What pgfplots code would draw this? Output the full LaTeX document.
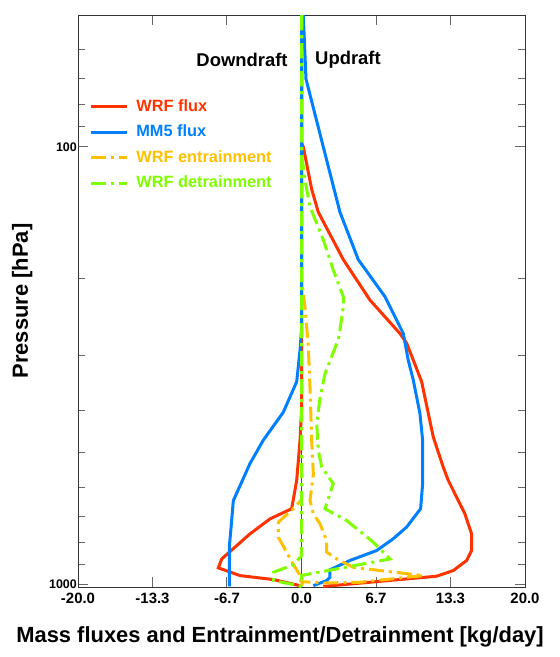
\documentclass[border=0pt]{standalone}
\usepackage{fontspec}
\setmainfont{Liberation Sans}
\usepackage{pgfplots}
\pgfplotsset{compat=1.18}

\definecolor{wrfred}{RGB}{255,51,0}
\definecolor{mmblue}{RGB}{0,128,255}
\definecolor{entorange}{RGB}{255,192,0}
\definecolor{detgreen}{RGB}{128,255,0}

\tikzset{dashdot/.style={dash pattern=on 15bp off 5bp on 3bp off 5bp}}

\begin{document}
\begin{tikzpicture}
\begin{axis}[
  scale only axis, width=447bp, height=572bp,
  xmin=-20, xmax=20, ymin=50, ymax=1013,
  ymode=log, y dir=reverse,
  xtick={-20,-13.333,-6.667,0,6.667,13.333,20},
  xticklabels={-20.0,-13.3,-6.7,0.0,6.7,13.3,20.0},
  ytick={100,1000}, yticklabels={100,1000},
  minor ytick={50,60,70,80,90,200,300,400,500,600,700,800,900},
  tick align=inside,
  major tick length=10bp, minor tick length=7bp,
  every tick/.style={black!60, line width=1bp},
  axis line style={black!80, line width=0.8bp},
  xticklabel style={font=\bfseries\fontsize{15}{18}\selectfont, yshift=-3bp},
  yticklabel style={font=\bfseries\fontsize{12.5}{15}\selectfont, inner sep=1bp},
  xlabel={Mass fluxes and Entrainment/Detrainment [kg/day]},
  ylabel={Pressure [hPa]},
  every axis x label/.style={at={(axis description cs:0.452,-0.0874)}, anchor=center,
    font=\bfseries\fontsize{22}{26}\selectfont},
  every axis y label/.style={at={(axis description cs:-0.125,0.5)}, rotate=90, anchor=center,
    font=\bfseries\fontsize{22}{26}\selectfont},
  legend style={at={(axis description cs:0.025,0.862)}, anchor=north west,
    draw=none, fill=none, inner sep=0pt, row sep=0pt,
    font=\bfseries\fontsize{16.4}{19}\selectfont,
    nodes={inner sep=5bp, text height=12bp, text depth=3.5bp},
    cells={anchor=west}},
  legend image code/.code={\draw[#1] (0bp,0bp) -- (36bp,0bp); \path (39bp,0bp);},
  legend cell align=left,
]
\addplot[black!70, line width=0.7bp, forget plot] coordinates {(0,50) (0,1013)};

% WRF flux (updraft, then downdraft)
\addplot[wrfred, line width=3bp] coordinates {
(0,50) (0,98) (0.16,100) (0.91,125) (1.50,141) (3.74,181) (6.13,224) (8.81,267)
(9.41,281) (10.0,307) (10.75,344) (11.79,460) (12.68,539) (13.13,578) (14.62,689)
(15.22,766) (15.22,836) (14.78,881) (13.58,929) (12.09,957) (1.95,1010)};
\addlegendentry{\textcolor{wrfred}{WRF flux}}
\addplot[wrfred, line width=3bp, forget plot] coordinates {
(0,50) (0,400) (-0.13,468) (-0.43,578) (-0.88,671) (-2.82,708) (-4.61,766)
(-7.14,874) (-7.44,916) (-5.50,954) (-2.52,974) (-0.13,1006)};

% MM5 flux
\addplot[mmblue, line width=3bp] coordinates {
(0.16,50) (0.40,70) (3.44,141) (5.08,181) (7.47,220) (9.11,267) (9.55,307)
(10.0,341) (10.6,407) (10.84,468) (10.84,588) (10.66,671) (9.41,739) (8.21,786)
(6.73,836) (4.34,881) (2.55,925) (2.55,962) (2.25,979) (1.06,1006)};
\addlegendentry{\textcolor{mmblue}{MM5 flux}}
\addplot[mmblue, line width=3bp, forget plot] coordinates {
(0,50) (0,262) (-0.13,291) (-0.43,344) (-1.63,404) (-3.42,468) (-4.61,529)
(-5.35,583) (-6.10,643) (-6.25,714) (-6.46,822) (-6.46,1010)};

% WRF entrainment
\addplot[entorange, line width=3bp, dashdot] coordinates {
(0,50) (0,200) (0.31,232) (0.61,286) (0.76,354) (0.91,468) (1.06,560) (0.76,643)
(1.06,689) (1.65,726) (2.25,793) (2.25,843) (3.15,874) (3.74,889) (4.63,913)
(7.02,929) (10.9,954) (5.2,988) (2.0,992) (0.1,985) (0,1005)};
\addlegendentry{\textcolor{entorange}{WRF entrainment}}
\addplot[entorange, line width=3bp, dashdot, forget plot] coordinates {
(0,50) (0,640) (-0.73,671) (-2.07,720) (-2.07,780) (-1.33,843) (-0.73,900)
(-0.13,953) (0,1005)};

% WRF detrainment
\addplot[detgreen, line width=3bp, dashdot] coordinates {
(0,50) (0,105) (0.16,111) (0.31,119) (0.76,137) (1.95,163) (2.84,191) (3.74,220)
(3.74,232) (3.44,262) (3.3,275) (2.1,330) (1.65,376) (1.36,429) (1.50,494)
(1.81,539) (2.84,588) (2.10,671) (4.04,714) (6.42,800) (7.92,874) (0.02,953) (0,1010)};
\addlegendentry{\textcolor{detgreen}{WRF detrainment}}
\addplot[detgreen, line width=3bp, dashdot, forget plot] coordinates {
(0,50) (0,860) (-0.73,901) (-2.5,937) (-2.5,979) (-1.0,997) (0,1010)};

\node[font=\bfseries\fontsize{18.5}{22}\selectfont] at (axis description cs:0.367,0.921) {Downdraft};
\node[font=\bfseries\fontsize{18.5}{22}\selectfont] at (axis description cs:0.604,0.921) {Updraft};
\end{axis}
\path ([shift={(-78bp,-70bp)}]current axis.south west) rectangle ([shift={(35bp,15bp)}]current axis.north east);
\end{tikzpicture}
\end{document}
